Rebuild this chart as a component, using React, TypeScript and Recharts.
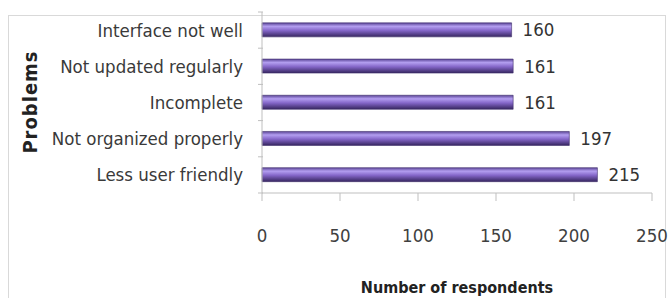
import React from 'react';
import { BarChart, Bar, XAxis, YAxis, LabelList } from 'recharts';

const problems = [
  'Less user friendly',
  'Not organized properly',
  'Incomplete',
  'Not updated regularly',
  'Interface not well',
];
const respondents = [215, 197, 161, 161, 160];
const xTicks = [0, 50, 100, 150, 200, 250];

// Recharts vertical layout draws the first row at the top, so reverse
const data = problems
  .map((name, i) => ({ name, value: respondents[i] }))
  .reverse();

const FONT = '"DejaVu Sans Condensed", "Liberation Sans Narrow", sans-serif';
const AXIS = '#bfbfbf';

const CategoryTick = (props: any) => {
  const { x, y, payload } = props;
  const half = 18.1;
  return (
    <g>
      <line x1={x + 4} x2={x + 9} y1={y + half} y2={y + half} stroke={AXIS} />
      {payload.index === 0 && (
        <line x1={x + 4} x2={x + 9} y1={y - half} y2={y - half} stroke={AXIS} />
      )}
      <text x={x - 11} y={y} dy="0.35em" textAnchor="end" fill="#3a3a3a" fontSize={18.5} fontFamily={FONT}>
        {payload.value}
      </text>
    </g>
  );
};

export default function App() {
  return (
    <div style={{ position: 'absolute', left: 0, top: 0, width: 668, height: 298, background: '#fff' }}>
      <div
        style={{
          position: 'absolute',
          left: 8,
          top: 15,
          width: 658,
          height: 290,
          border: '1px solid #d9d9d9',
          boxSizing: 'border-box',
        }}
      />
      <BarChart
        width={668}
        height={298}
        data={data}
        layout="vertical"
        margin={{ top: 12, right: 16, left: 0, bottom: 0 }}
        barCategoryGap="30%"
        style={{ position: 'absolute', left: 0, top: 0 }}
      >
        <defs>
          <linearGradient id="barFill" x1="0" y1="0" x2="0" y2="1">
            <stop offset="0%" stopColor="#5a4496" />
            <stop offset="25%" stopColor="#b39ef0" />
            <stop offset="55%" stopColor="#8466c8" />
            <stop offset="100%" stopColor="#36265f" />
          </linearGradient>
        </defs>
        <XAxis
          type="number"
          domain={[0, 250]}
          ticks={xTicks}
          height={105}
          stroke={AXIS}
          tickSize={8}
          tickMargin={28}
          tick={{ fill: '#404040', fontSize: 18.5, fontFamily: FONT }}
        />
        <YAxis
          type="category"
          dataKey="name"
          width={262}
          stroke={AXIS}
          tickLine={false}
          tick={<CategoryTick />}
          interval={0}
        />
        <Bar dataKey="value" fill="url(#barFill)" stroke="#3f2f6c" strokeWidth={0.6} isAnimationActive={false}>
          <LabelList dataKey="value" position="right" offset={11} fill="#333" fontSize={18.5} fontFamily={FONT} />
        </Bar>
        <text x={30} y={102} transform="rotate(-90 30 102)" textAnchor="middle" dominantBaseline="central" fontSize={20} letterSpacing={1} fontWeight="bold" fill="#222" fontFamily={FONT}>
          Problems
        </text>
        <text x={457} y={287} textAnchor="middle" dominantBaseline="central" fontSize={16} fontWeight="bold" fill="#222" fontFamily={FONT}>
          Number of respondents
        </text>
      </BarChart>
    </div>
  );
}
